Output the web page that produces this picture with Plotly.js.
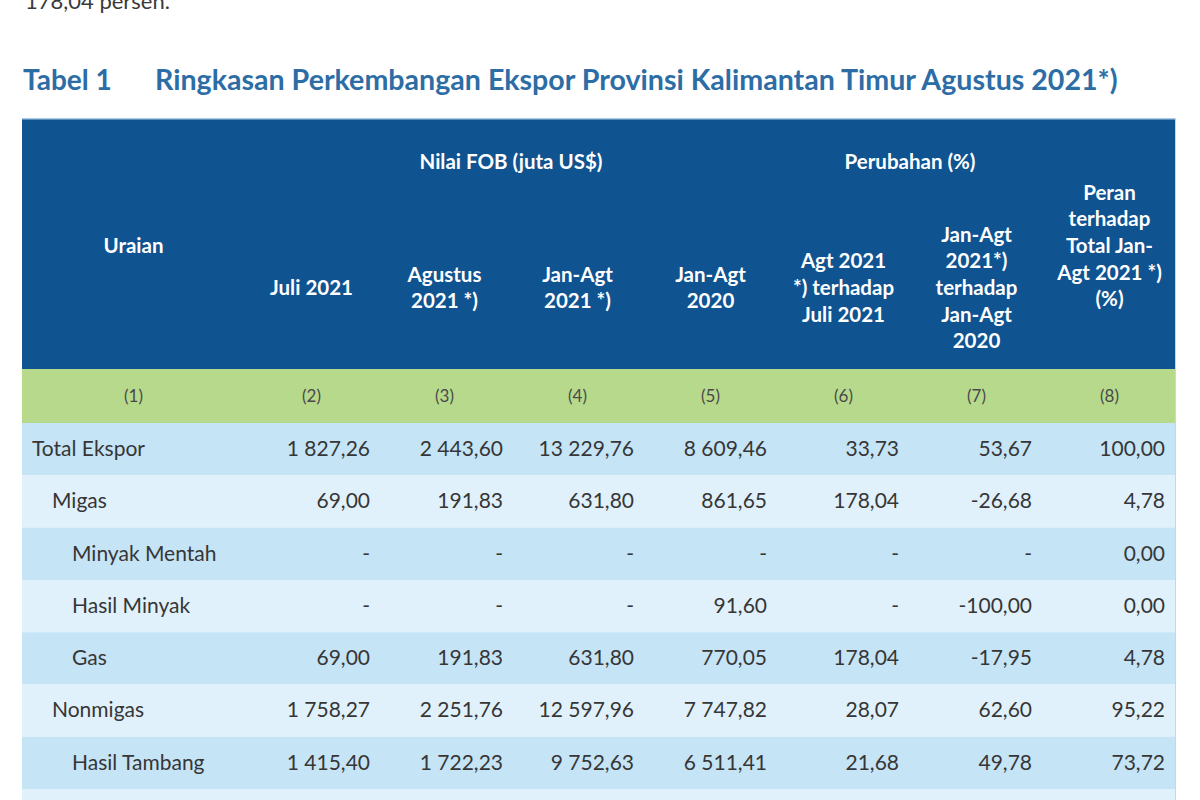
<!DOCTYPE html>
<html><head><meta charset="utf-8">
<script src="https://cdn.plot.ly/plotly-3.0.1.min.js"></script>
<style>html,body{margin:0;padding:0;background:#fff}</style>
</head><body><div id="chart" style="width:1200px;height:800px"></div>
<script>
// ---- data ----
const rowLabels = ["Total Ekspor", "Migas", "Minyak Mentah", "Hasil Minyak", "Gas", "Nonmigas", "Hasil Tambang"];
const rowLevels = [0, 1, 2, 2, 2, 1, 2];
const juli2021 = ["1 827,26", "69,00", "-", "-", "69,00", "1 758,27", "1 415,40"];
const agustus2021 = ["2 443,60", "191,83", "-", "-", "191,83", "2 251,76", "1 722,23"];
const janAgt2021 = ["13 229,76", "631,80", "-", "-", "631,80", "12 597,96", "9 752,63"];
const janAgt2020 = ["8 609,46", "861,65", "-", "91,60", "770,05", "7 747,82", "6 511,41"];
const chgAgtVsJuli = ["33,73", "178,04", "-", "-", "178,04", "28,07", "21,68"];
const chgJanAgtYoY = ["53,67", "-26,68", "-", "-100,00", "-17,95", "62,60", "49,78"];
const peranTotal = ["100,00", "4,78", "0,00", "0,00", "4,78", "95,22", "73,72"];
const colHeaders = ["Uraian", "Juli 2021", "Agustus<br>2021 *)", "Jan-Agt<br>2021 *)", "Jan-Agt<br>2020",
  "Agt 2021<br>*) terhadap<br>Juli 2021", "Jan-Agt<br>2021*)<br>terhadap<br>Jan-Agt<br>2020",
  "Peran<br>terhadap<br>Total Jan-<br>Agt 2021 *)<br>(%)"];
const groupHeaders = ["Nilai FOB (juta US$)", "Perubahan (%)"];
const groupSpans = [[1, 4], [5, 6]];
const colNumbers = ["(1)", "(2)", "(3)", "(4)", "(5)", "(6)", "(7)", "(8)"];
const tableTitleNo = "Tabel 1";
const tableTitle = "Ringkasan Perkembangan Ekspor Provinsi Kalimantan Timur Agustus 2021*)";
const topText = "178,04 persen.";

// ---- layout geometry / style ----
const FONT = "Lato, 'Open Sans', sans-serif";
const TOP = 118, LEFT = 22;
const colW = [223, 133, 133, 133, 133, 133, 133, 133];
const edges = [0]; colW.forEach(w => edges.push(edges[edges.length - 1] + w));
const TOTAL_W = edges[edges.length - 1];
const PLOT_H = 800 - TOP;
const HEADER_H = 251, INDEX_H = 54, ROW_H = 52.3;
const C_HEAD = "#0F5391", C_GREEN = "#B7D98C", C_DARK = "#C5E4F6", C_LIGHT = "#E0F1FB";
const C_TEXT = "#363636", C_TITLE = "#2D6DA5";
const colCenter = i => (edges[i] + edges[i + 1]) / 2;
const rowTop = r => HEADER_H + INDEX_H + r * ROW_H;
const rowMid = r => rowTop(r) + ROW_H / 2 + 1.5;
const valuePad = [8, 8, 10, 10, 11, 11, 11];

const valueCols = [juli2021, agustus2021, janAgt2021, janAgt2020, chgAgtVsJuli, chgJanAgtYoY, peranTotal];

const shapes = [];
shapes.push({type: "rect", xref: "x", yref: "y", x0: 0, x1: TOTAL_W, y0: 0, y1: HEADER_H, fillcolor: C_HEAD, line: {width: 0}, layer: "below"});
shapes.push({type: "rect", xref: "x", yref: "y", x0: 0, x1: TOTAL_W, y0: HEADER_H, y1: HEADER_H + INDEX_H, fillcolor: C_GREEN, line: {width: 0}, layer: "below"});
for (let r = 0; r < rowLabels.length + 1; r++) {
  shapes.push({type: "rect", xref: "x", yref: "y", x0: 0, x1: TOTAL_W, y0: rowTop(r), y1: rowTop(r + 1),
    fillcolor: r % 2 === 0 ? C_DARK : C_LIGHT, line: {width: 0}, layer: "below"});
}
shapes.push({type: "line", xref: "x", yref: "y", x0: 0, x1: TOTAL_W, y0: 0.5, y1: 0.5, line: {color: "#A9CBE6", width: 2}});
shapes.push({type: "line", xref: "x", yref: "y", x0: TOTAL_W, x1: TOTAL_W, y0: 0, y1: PLOT_H, line: {color: "#B9DAF0", width: 2}});

const HEAD_FONT = {family: FONT, size: 20.5, color: "#FFFFFF", weight: "bold"};
const traces = [];
// group headers
traces.push({type: "scatter", mode: "text", hoverinfo: "skip", showlegend: false,
  x: groupSpans.map(s => (edges[s[0]] + edges[s[1] + 1]) / 2), y: groupSpans.map(() => 46),
  text: groupHeaders, textposition: "middle center", textfont: HEAD_FONT});
// column headers
traces.push({type: "scatter", mode: "text", hoverinfo: "skip", showlegend: false,
  x: colHeaders.map((_, i) => colCenter(i)),
  y: colHeaders.map((_, i) => (i === 0 || i === colHeaders.length - 1) ? 130 : 172),
  text: colHeaders, textposition: "middle center", textfont: HEAD_FONT});
// column numbers
traces.push({type: "scatter", mode: "text", hoverinfo: "skip", showlegend: false,
  x: colNumbers.map((_, i) => colCenter(i)), y: colNumbers.map(() => HEADER_H + INDEX_H / 2 + 1.5),
  text: colNumbers, textposition: "middle center",
  textfont: {family: FONT, size: 17, color: "#4A4A4A"}});
// row labels
traces.push({type: "scatter", mode: "text", hoverinfo: "skip", showlegend: false,
  x: rowLevels.map(l => 10 + l * 20), y: rowLabels.map((_, r) => rowMid(r)),
  text: rowLabels, textposition: "middle right",
  textfont: {family: FONT, size: 21, color: C_TEXT}});
// values
valueCols.forEach((vals, j) => {
  traces.push({type: "scatter", mode: "text", hoverinfo: "skip", showlegend: false,
    x: vals.map(() => edges[j + 2] - valuePad[j]), y: vals.map((_, r) => rowMid(r)),
    text: vals, textposition: "middle left",
    textfont: {family: FONT, size: 21, color: C_TEXT}});
});

const pyPaper = px => (800 - px) / PLOT_H;
const pxPaper = px => (px - LEFT) / TOTAL_W;
const annotations = [
  {xref: "paper", yref: "paper", x: pxPaper(23), y: pyPaper(1), xanchor: "left", yanchor: "middle", showarrow: false,
   text: topText, font: {family: FONT, size: 22, color: "#3A3A3A"}},
  {xref: "paper", yref: "paper", x: pxPaper(21), y: pyPaper(79), xanchor: "left", yanchor: "middle", showarrow: false,
   text: tableTitleNo, font: {family: FONT, size: 28, color: C_TITLE, weight: "bold"}},
  {xref: "paper", yref: "paper", x: pxPaper(153), y: pyPaper(79), xanchor: "left", yanchor: "middle", showarrow: false,
   text: tableTitle, font: {family: FONT, size: 28.6, color: C_TITLE, weight: "bold"}}
];

const layout = {
  width: 1200, height: 800,
  margin: {l: LEFT, r: 1200 - LEFT - TOTAL_W, t: TOP, b: 0, pad: 0},
  paper_bgcolor: "#FFFFFF", plot_bgcolor: "#FFFFFF",
  xaxis: {range: [0, TOTAL_W], visible: false, fixedrange: true},
  yaxis: {range: [PLOT_H, 0], visible: false, fixedrange: true},
  shapes: shapes, annotations: annotations, showlegend: false
};
Plotly.newPlot("chart", traces, layout, {displayModeBar: false, staticPlot: true});
</script></body></html>
